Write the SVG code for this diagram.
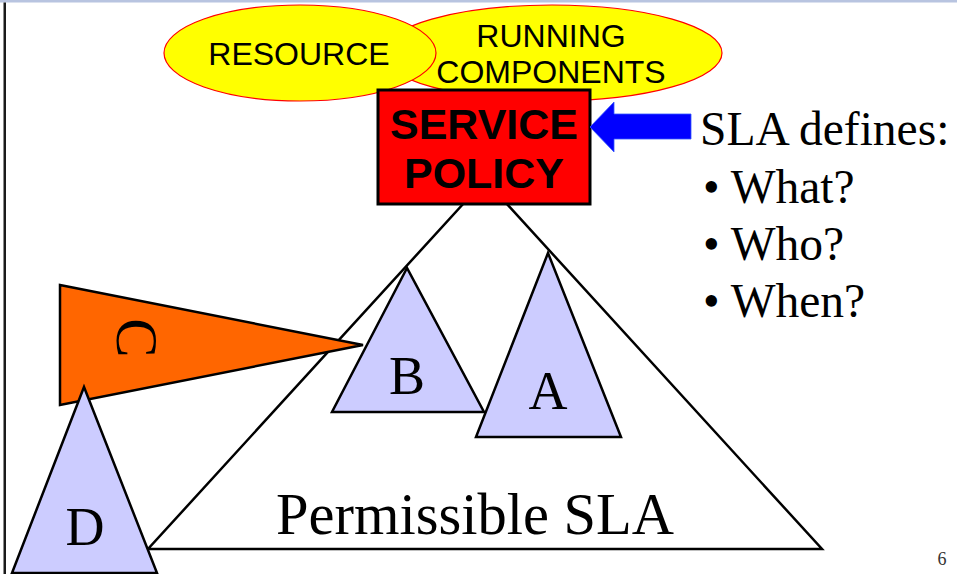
<svg xmlns="http://www.w3.org/2000/svg" width="957" height="574" viewBox="0 0 957 574">
<defs>
<style>
.ell{fill:#FFFF00;stroke:#FF0000;stroke-width:1.2}
.tri{fill:#CCCCFF;stroke:#000;stroke-width:2.5;stroke-linejoin:miter}
.sans{font-family:"Liberation Sans",Arial,sans-serif;fill:#000}
.serif{font-family:"Liberation Serif","Times New Roman",serif;fill:#000}
</style>
</defs>
<rect x="0" y="0" width="957" height="574" fill="#FFFFFF"/>
<rect x="0" y="0" width="957" height="2.5" fill="#B8C4E0"/>
<rect x="3.5" y="2.5" width="2.5" height="572" fill="#1A1A1A"/>

<g id="permissible-sla">
<polygon points="485,180 148,549 822,549" fill="#FFFFFF" stroke="#000" stroke-width="2.5"/>
<text class="serif" x="475" y="534" font-size="58.5" text-anchor="middle">Permissible SLA</text>
</g>

<g id="running-components">
<ellipse class="ell" cx="552" cy="53" rx="170" ry="48"/>
<text class="sans" x="551" y="47" font-size="32" text-anchor="middle">RUNNING</text>
<text class="sans" x="551" y="83" font-size="32" text-anchor="middle">COMPONENTS</text>
</g>

<g id="resource">
<ellipse class="ell" cx="300" cy="53" rx="136" ry="48"/>
<text class="sans" x="299" y="65" font-size="32" text-anchor="middle">RESOURCE</text>
</g>

<g id="service-policy">
<rect x="378" y="90" width="212" height="114" fill="#FF0000" stroke="#000" stroke-width="3"/>
<text class="sans" x="484" y="139" font-size="43" font-weight="bold" text-anchor="middle">SERVICE</text>
<text class="sans" x="484" y="188" font-size="43" font-weight="bold" text-anchor="middle">POLICY</text>
</g>

<g id="node-b">
<polygon class="tri" points="407,268 332,412 484,412"/>
<text class="serif" x="407" y="394" font-size="54" text-anchor="middle">B</text>
</g>

<g id="node-a">
<polygon class="tri" points="548,253 476,437 621,437"/>
<text class="serif" x="548" y="409" font-size="54" text-anchor="middle">A</text>
</g>

<g id="node-c">
<polygon points="60,285 363,345 60,405" fill="#FF6600" stroke="#000" stroke-width="2.5"/>
<text class="serif" x="117" y="338" font-size="59" text-anchor="middle" transform="rotate(90 117 338)">C</text>
</g>

<g id="node-d">
<polygon class="tri" points="84,387 12,573 157,573"/>
<text class="serif" x="85" y="545" font-size="54" text-anchor="middle">D</text>
</g>

<g id="connectors">
<polygon points="590,127 614,102 614,114 691,114 691,139 614,139 614,152" fill="#0000FF" stroke="#3355FF" stroke-width="0.8"/>
</g>

<g id="sla-defines">
<text class="serif" x="700" y="145" font-size="47.5">SLA defines:</text>
<text class="serif" x="703" y="203" font-size="47.5">• What?</text>
<text class="serif" x="703" y="260" font-size="47.5">• Who?</text>
<text class="serif" x="703" y="317" font-size="47.5">• When?</text>
</g>

<g id="page-number">
<text x="942" y="565" font-size="18" text-anchor="middle" font-family="Liberation Serif, serif" fill="#333333">6</text>
</g>
</svg>
